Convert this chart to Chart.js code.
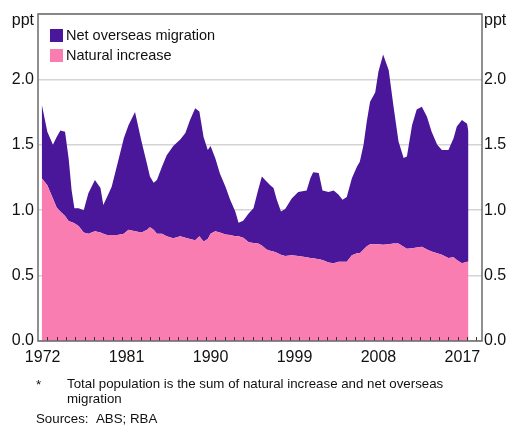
<!DOCTYPE html>
<html>
<head>
<meta charset="utf-8">
<script src="https://cdn.jsdelivr.net/npm/chart.js@4.4.1/dist/chart.umd.min.js"></script>
<style>
  html, body { margin: 0; padding: 0; background: #fff; }
  #wrap { position: relative; width: 507px; height: 425px; }
  #chart { position: absolute; left: 0; top: 0; }
  .note { position: absolute; font-family: 'Liberation Sans', Arial, sans-serif; font-size: 13.3px; line-height: 15px; color: #111; white-space: nowrap; }
</style>
</head>
<body>
<div id="wrap">
  <canvas id="chart" width="507" height="425"></canvas>
  <div class="note" style="left:36px; top:377px;">*</div>
  <div class="note" style="left:67px; top:376px;">Total population is the sum of natural increase and net overseas<br>migration</div>
  <div class="note" style="left:36px; top:411px;">Sources:</div>
  <div class="note" style="left:96px; top:411px;">ABS; RBA</div>
</div>
<script>
// Dates (decimal years)
const years = [
  1972.4, 1973.0, 1973.6, 1974.0, 1974.4, 1974.9, 1975.3, 1975.6, 1975.9, 1976.35,
  1976.9, 1977.4, 1978.1, 1978.7, 1979.0, 1979.4, 1979.9, 1980.5, 1981.2, 1981.7,
  1982.4, 1983.1, 1983.7, 1984.0, 1984.4, 1984.75, 1985.3, 1985.8, 1986.5, 1987.25,
  1987.8, 1988.3, 1988.85, 1989.3, 1989.75, 1990.2, 1990.5, 1991.0, 1991.5, 1992.1,
  1992.6, 1993.15, 1993.5, 1994.0, 1994.6, 1995.1, 1995.6, 1996.0, 1996.5, 1996.9,
  1997.25, 1997.6, 1998.05, 1998.5, 1999.2, 1999.9, 2000.8, 2001.2, 2001.5, 2002.1,
  2002.5, 2003.15, 2003.7, 2004.2, 2004.65, 2005.1, 2005.65, 2006.2, 2006.5, 2006.9,
  2007.25, 2007.6, 2008.15, 2008.5, 2009.0, 2009.6, 2010.1, 2010.65, 2011.2, 2011.55,
  2012.1, 2012.6, 2013.15, 2013.7, 2014.2, 2014.8, 2015.3, 2016.0, 2016.55, 2016.9,
  2017.45, 2018.0, 2018.15
];

// Natural increase contribution (ppt)
const naturalIncrease = [
  1.245, 1.19, 1.09, 1.02, 0.99, 0.955, 0.915, 0.91, 0.90, 0.88,
  0.83, 0.82, 0.84, 0.83, 0.82, 0.81, 0.81, 0.81, 0.82, 0.85,
  0.84, 0.83, 0.85, 0.87, 0.85, 0.82, 0.82, 0.80, 0.785, 0.80,
  0.79, 0.78, 0.77, 0.80, 0.76, 0.78, 0.82, 0.84, 0.83, 0.815,
  0.81, 0.80, 0.80, 0.79, 0.755, 0.75, 0.745, 0.73, 0.70, 0.69,
  0.685, 0.675, 0.66, 0.65, 0.655, 0.65, 0.64, 0.635, 0.633, 0.625,
  0.62, 0.60, 0.595, 0.605, 0.605, 0.605, 0.655, 0.67, 0.67, 0.70,
  0.725, 0.74, 0.74, 0.74, 0.735, 0.74, 0.745, 0.745, 0.72, 0.705,
  0.71, 0.715, 0.72, 0.70, 0.685, 0.67, 0.66, 0.635, 0.64, 0.62,
  0.595, 0.605, 0.605
];

// Net overseas migration contribution (ppt)
const netOverseasMigration = [
  0.565, 0.41, 0.41, 0.54, 0.62, 0.645, 0.47, 0.245, 0.115, 0.135,
  0.17, 0.31, 0.39, 0.34, 0.22, 0.29, 0.37, 0.54, 0.73, 0.80,
  0.91, 0.695, 0.50, 0.387, 0.36, 0.41, 0.515, 0.62, 0.705, 0.74,
  0.80, 0.91, 1.01, 0.955, 0.80, 0.68, 0.67, 0.56, 0.45, 0.365,
  0.27, 0.19, 0.105, 0.13, 0.222, 0.265, 0.41, 0.527, 0.52, 0.50,
  0.485, 0.405, 0.33, 0.36, 0.435, 0.49, 0.51, 0.61, 0.657, 0.66,
  0.53, 0.54, 0.555, 0.515, 0.475, 0.495, 0.59, 0.665, 0.70, 0.80,
  0.955, 1.09, 1.16, 1.32, 1.455, 1.33, 1.055, 0.78, 0.68, 0.705,
  0.94, 1.055, 1.07, 1.015, 0.915, 0.83, 0.80, 0.825, 0.91, 1.02,
  1.095, 1.055, 0.995
];

// Labelled years on the x axis
const yearLabels = [1972, 1981, 1990, 1999, 2008, 2017];
const yTicks = [0, 0.5, 1.0, 1.5, 2.0, 2.5];

const PURPLE = '#4a169a';
const PINK = '#f97db1';
const FONT = "'Liberation Sans', Arial, sans-serif";

// Plot frame, inner year ticks, unit labels and the legend inside the plot
const decorations = {
    id: 'decorations',
    afterDatasetsDraw(chart) {
        const ctx = chart.ctx;
        const area = chart.chartArea;
        const x = chart.scales.x;
        ctx.save();
        // small year ticks pointing up from the bottom axis
        ctx.strokeStyle = '#333';
        ctx.lineWidth = 1;
        for (let yr = Math.ceil(x.min + 0.01); yr < x.max; yr++) {
            const px = Math.round(x.getPixelForValue(yr)) + 0.5;
            ctx.beginPath();
            ctx.moveTo(px, area.bottom);
            ctx.lineTo(px, area.bottom - 4);
            ctx.stroke();
        }
        // frame
        ctx.strokeStyle = '#6b6b6b';
        ctx.lineWidth = 1.5;
        ctx.strokeRect(area.left, area.top, area.right - area.left, area.bottom - area.top);
        ctx.restore();
    },
    afterDraw(chart) {
        const ctx = chart.ctx;
        const area = chart.chartArea;
        ctx.save();
        ctx.fillStyle = '#111';
        ctx.font = '16px ' + FONT;
        ctx.textBaseline = 'alphabetic';
        ctx.textAlign = 'right';
        ctx.fillText('ppt', area.left - 4, area.top + 11);
        ctx.textAlign = 'left';
        ctx.fillText('ppt', area.right + 2, area.top + 11);

        // legend: migration first, then natural increase
        const items = chart.data.datasets.slice().reverse();
        ctx.font = '14.5px ' + FONT;
        ctx.textBaseline = 'middle';
        items.forEach((ds, i) => {
            const top = area.top + 15 + i * 20;
            ctx.fillStyle = ds.backgroundColor;
            ctx.fillRect(area.left + 12, top, 13, 13);
            ctx.fillStyle = '#111';
            ctx.fillText(ds.label, area.left + 28, top + 7);
        });
        ctx.restore();
    }
};

const tickFmt = v => (v >= 2.5 ? '' : v.toFixed(1));

new Chart(document.getElementById('chart'), {
    type: 'line',
    data: {
        datasets: [
            {
                label: 'Natural increase',
                data: years.map((yr, i) => ({ x: yr, y: naturalIncrease[i] })),
                backgroundColor: PINK,
                borderWidth: 0,
                pointRadius: 0,
                fill: 'origin',
                tension: 0
            },
            {
                label: 'Net overseas migration',
                data: years.map((yr, i) => ({ x: yr, y: netOverseasMigration[i] })),
                backgroundColor: PURPLE,
                borderWidth: 0,
                pointRadius: 0,
                fill: '-1',
                tension: 0
            }
        ]
    },
    options: {
        responsive: false,
        animation: false,
        devicePixelRatio: 1,
        layout: { padding: { top: 14, bottom: 54, left: 0, right: 0 } },
        plugins: {
            legend: { display: false },
            tooltip: { enabled: false }
        },
        scales: {
            x: {
                type: 'linear',
                min: 1972,
                max: 2019.6,
                grid: { display: false, drawTicks: false },
                border: { display: false },
                afterBuildTicks: scale => {
                    scale.ticks = yearLabels.map(v => ({ value: v + 0.5 }));
                },
                afterFit: scale => { scale.height = 30; },
                ticks: {
                    autoSkip: false,
                    maxRotation: 0,
                    padding: 7,
                    color: '#111',
                    font: { family: FONT, size: 16 },
                    callback: v => String(Math.floor(v))
                }
            },
            y: {
                stacked: true,
                min: 0,
                max: 2.5,
                position: 'left',
                grid: { color: '#d4d4d4', lineWidth: 1.5, drawTicks: false },
                border: { display: false },
                afterBuildTicks: scale => { scale.ticks = yTicks.map(v => ({ value: v })); },
                afterFit: scale => { scale.width = 38; },
                ticks: {
                    padding: 4,
                    color: '#111',
                    font: { family: FONT, size: 16 },
                    callback: tickFmt
                }
            },
            y2: {
                min: 0,
                max: 2.5,
                position: 'right',
                grid: { display: false, drawTicks: false },
                border: { display: false },
                afterBuildTicks: scale => { scale.ticks = yTicks.map(v => ({ value: v })); },
                afterFit: scale => { scale.width = 25; },
                ticks: {
                    padding: 2,
                    color: '#111',
                    font: { family: FONT, size: 16 },
                    callback: tickFmt
                }
            }
        }
    },
    plugins: [decorations]
});
</script>
</body>
</html>
